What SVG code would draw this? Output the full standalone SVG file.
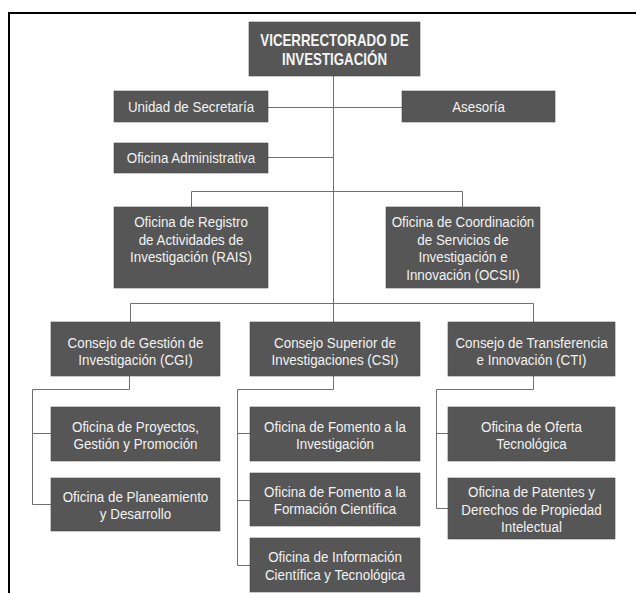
<svg xmlns="http://www.w3.org/2000/svg" width="636" height="593" viewBox="0 0 636 593">
<style>
.box{fill:#565656;stroke:#4a4a4a;stroke-width:0.6}
.t{font-family:"Liberation Sans",Arial,sans-serif;font-size:15.5px;fill:#f2f2f2;text-anchor:middle}
.b{font-family:"Liberation Sans",Arial,sans-serif;font-size:16.5px;font-weight:bold;fill:#f4f4f4;text-anchor:middle}
.ln{fill:none;stroke:#707070;stroke-width:1}
.frame{fill:none;stroke:#000;stroke-width:2}
</style>
<rect x="0" y="0" width="636" height="593" fill="#ffffff"/>
<path class="frame" d="M9 593 V13 H636"/>
<g id="connectors">
<path class="ln" d="M333.5 76 V322"/>
<path class="ln" d="M268 107.5 H402"/>
<path class="ln" d="M268 157.5 H333.5"/>
<path class="ln" d="M191.5 207 V191.5 H462.5 V207"/>
<path class="ln" d="M130.5 322 V303.5 H533.5 V322"/>
<path class="ln" d="M129.5 376 V389.5 H32.5 V504.5 H51 M32.5 433.5 H51"/>
<path class="ln" d="M333.5 376 V389.5 H237.5 V565.5 H250 M237.5 433.5 H250 M237.5 500.5 H250"/>
<path class="ln" d="M533.5 376 V389.5 H436.5 V508.5 H448 M436.5 433.5 H448"/>
</g>
<g id="vicerrectorado">
<rect class="box" x="249" y="22" width="171" height="54"/>
<g transform="translate(334.5 0) scale(0.807 1)"><text class="b" x="0" y="46.5">VICERRECTORADO DE</text><text class="b" x="0" y="65">INVESTIGACIÓN</text></g>
</g>
<g id="secretaria">
<rect class="box" x="114" y="91" width="154" height="31"/>
<g transform="translate(191 0) scale(0.862 1)"><text class="t" x="0" y="112">Unidad de Secretaría</text></g>
</g>
<g id="asesoria">
<rect class="box" x="402" y="91" width="153" height="31"/>
<g transform="translate(478.5 0) scale(0.862 1)"><text class="t" x="0" y="112">Asesoría</text></g>
</g>
<g id="administrativa">
<rect class="box" x="114" y="143" width="154" height="30"/>
<g transform="translate(191 0) scale(0.862 1)"><text class="t" x="0" y="163.5">Oficina Administrativa</text></g>
</g>
<g id="rais">
<rect class="box" x="114" y="207" width="154" height="81"/>
<g transform="translate(191 0) scale(0.862 1)"><text class="t" x="0" y="227.5">Oficina de Registro</text><text class="t" x="0" y="245">de Actividades de</text><text class="t" x="0" y="262.5">Investigación (RAIS)</text></g>
</g>
<g id="ocsii">
<rect class="box" x="386" y="207" width="154" height="81"/>
<g transform="translate(463 0) scale(0.862 1)"><text class="t" x="0" y="227.5">Oficina de Coordinación</text><text class="t" x="0" y="245">de Servicios de</text><text class="t" x="0" y="262.5">Investigación e</text><text class="t" x="0" y="280">Innovación (OCSII)</text></g>
</g>
<g id="cgi">
<rect class="box" x="51" y="322" width="169" height="54"/>
<g transform="translate(135.5 0) scale(0.862 1)"><text class="t" x="0" y="348">Consejo de Gestión de</text><text class="t" x="0" y="365.5">Investigación (CGI)</text></g>
</g>
<g id="csi">
<rect class="box" x="250" y="322" width="170" height="54"/>
<g transform="translate(335 0) scale(0.862 1)"><text class="t" x="0" y="348">Consejo Superior de</text><text class="t" x="0" y="365.5">Investigaciones (CSI)</text></g>
</g>
<g id="cti">
<rect class="box" x="448" y="322" width="167" height="54"/>
<g transform="translate(531.5 0) scale(0.862 1)"><text class="t" x="0" y="348">Consejo de Transferencia</text><text class="t" x="0" y="365.5">e Innovación (CTI)</text></g>
</g>
<g id="proyectos">
<rect class="box" x="51" y="407" width="169" height="54"/>
<g transform="translate(135.5 0) scale(0.862 1)"><text class="t" x="0" y="432">Oficina de Proyectos,</text><text class="t" x="0" y="449.5">Gestión y Promoción</text></g>
</g>
<g id="planeamiento">
<rect class="box" x="51" y="478" width="169" height="53"/>
<g transform="translate(135.5 0) scale(0.862 1)"><text class="t" x="0" y="502">Oficina de Planeamiento</text><text class="t" x="0" y="519.5">y Desarrollo</text></g>
</g>
<g id="fomento-investigacion">
<rect class="box" x="250" y="407" width="170" height="54"/>
<g transform="translate(335 0) scale(0.862 1)"><text class="t" x="0" y="432">Oficina de Fomento a la</text><text class="t" x="0" y="449.5">Investigación</text></g>
</g>
<g id="fomento-formacion">
<rect class="box" x="250" y="473" width="170" height="53"/>
<g transform="translate(335 0) scale(0.862 1)"><text class="t" x="0" y="497">Oficina de Fomento a la</text><text class="t" x="0" y="514.5">Formación Científica</text></g>
</g>
<g id="informacion">
<rect class="box" x="250" y="538" width="170" height="54"/>
<g transform="translate(335 0) scale(0.862 1)"><text class="t" x="0" y="562.5">Oficina de Información</text><text class="t" x="0" y="580">Científica y Tecnológica</text></g>
</g>
<g id="oferta">
<rect class="box" x="448" y="407" width="167" height="54"/>
<g transform="translate(531.5 0) scale(0.862 1)"><text class="t" x="0" y="432">Oficina de Oferta</text><text class="t" x="0" y="449.5">Tecnológica</text></g>
</g>
<g id="patentes">
<rect class="box" x="448" y="478" width="167" height="61"/>
<g transform="translate(531.5 0) scale(0.862 1)"><text class="t" x="0" y="497.5">Oficina de Patentes y</text><text class="t" x="0" y="515">Derechos de Propiedad</text><text class="t" x="0" y="532.5">Intelectual</text></g>
</g>
</svg>
